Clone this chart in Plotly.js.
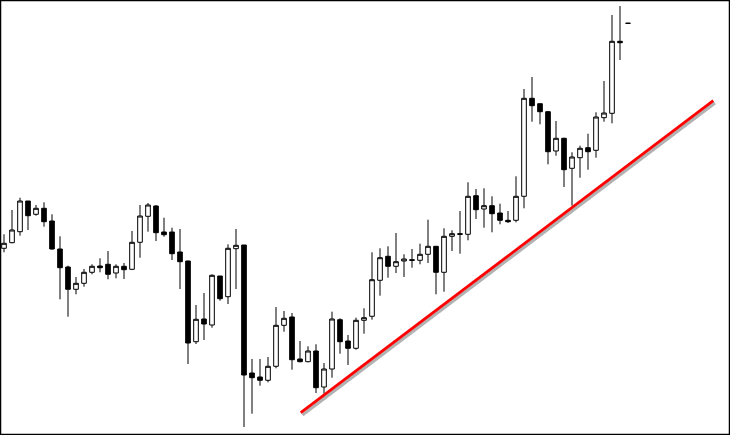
<!DOCTYPE html>
<html>
<head>
<meta charset="utf-8">
<script src="https://cdn.plot.ly/plotly-3.0.1.min.js"></script>
<style>html,body{margin:0;padding:0;background:#fff;}#chart{width:730px;height:435px;}</style>
</head>
<body>
<div id="chart"></div>
<script>
// Price values (arbitrary linear price units)
const openP = [186.7,192.3,203.3,234,220.7,226.7,214,186,168,145.7,151.7,162.7,169,170.7,162,168.7,165.7,192.7,218.7,229,
  203,203,183,174,93.3,116,110,159,138.3,186.3,190,62,58,54.7,68.7,109.7,118,76,73.3,84,
  48,66,115.3,94,86.7,114.7,118.7,154.7,178.7,168.7,174,175.3,174.7,180.7,188.7,162.7,198.7,201.3,200.7,239.3,
  226,229.3,222,214.7,214.7,238.7,336.7,331.3,323.3,284,296.7,266.7,277.3,287.3,284.7,317.3,321.7,393.7,411.7];
const highP = [200.7,225,237.3,234,230,232.7,220.7,198.7,169.3,158,166,170.7,176.7,184,170.7,172,204,230,232,230,
  217.3,207.3,206,174.3,130,142,160.7,159,190.7,206,190,76,76,78,128,124,122,94,88.7,90.7,
  72,123.3,116.7,100,117.3,126.7,182.7,186.7,188.7,202,180.7,186,191.3,215.3,188.7,206.7,204.7,224,252.7,246,
  246.7,238.7,231.3,224,258.7,346,358,331.3,324,314,297.3,282.7,289.3,301.3,322.7,354,420,429,411.7];
const lowP = [182.7,191.7,199.3,205,219.3,208.3,185.3,135.7,118.3,140.7,148.3,160.7,162.7,155.7,156.7,156,165,177.3,203.3,194,
  198.3,175,146,71,91,95,107.3,134.3,131,146,8,21.3,49.3,52.7,66.7,103.3,65.3,72.7,72.7,42,
  41.3,57.3,81.3,70,85.3,101.3,115.3,139.3,157.3,162,158,167.3,170.7,172,140.7,143.3,184,181.3,194.7,216,
  207.3,202.7,210.7,212,212.7,226.7,313.3,310.7,270.7,279.3,248,229.3,257.3,265.3,277.3,313.3,311.7,375,411.7];
const closeP = [191.7,205,234,219.3,226.7,213.3,186,167.3,145.7,151.7,162.7,168.7,167.3,160.7,168.7,165.3,192.7,219,230,202.3,
  200.3,181.3,173.3,92,115.7,111,159.7,136.3,186.7,189.7,60,57.3,54.7,68.7,109.7,116.7,75.3,73.3,84,47.3,
  66,116,93.3,86.7,114.7,117.3,155.3,177.3,168.7,173.3,176,174.7,180.7,188.7,162.7,198.7,201.3,200.7,238.7,225.3,
  229.3,221.3,214.7,213.3,238.7,336.7,329.3,323.3,283.3,296.7,265.3,278,286.7,283.3,318,322,393.7,392.3,411.7];
const barIndex = openP.map((_, i) => i);

// Hand-drawn support trendline (bar index, price)
const trendX = [37.09, 88.66];
const trendY = [22.3, 334.3];

const traces = [
  {
    type: 'candlestick', x: barIndex, open: openP, high: highP, low: lowP, close: closeP,
    increasing: {line: {color: '#000', width: 1}, fillcolor: '#ffffff'},
    decreasing: {line: {color: '#000', width: 1}, fillcolor: '#000000'},
    whiskerwidth: 0, hoverinfo: 'skip', showlegend: false
  },
  {
    type: 'scatter', mode: 'lines', x: trendX.map(v => v + 0.2), y: trendY.map(v => v - 2.2),
    line: {color: 'rgba(0,0,0,0.3)', width: 3.5}, hoverinfo: 'skip', showlegend: false
  },
  {
    type: 'scatter', mode: 'lines', x: trendX, y: trendY,
    line: {color: '#ff0000', width: 2.8}, hoverinfo: 'skip', showlegend: false
  }
];

const layout = {
  width: 730, height: 435,
  margin: {l: 0, r: 0, t: 0, b: 0, pad: 0},
  paper_bgcolor: '#ffffff', plot_bgcolor: '#ffffff',
  showlegend: false,
  boxgap: 0.42, boxgroupgap: 0,
  xaxis: {range: [-0.5, 90.75], visible: false, showgrid: false, zeroline: false, fixedrange: true,
          rangeslider: {visible: false}},
  yaxis: {range: [0, 435], visible: false, showgrid: false, zeroline: false, fixedrange: true},
  shapes: [{type: 'rect', xref: 'paper', yref: 'paper', x0: 0, y0: 0, x1: 1, y1: 1,
            line: {color: '#000', width: 2.5}, fillcolor: 'rgba(0,0,0,0)'}]
};

Plotly.newPlot('chart', traces, layout, {staticPlot: true, displayModeBar: false});
</script>
</body>
</html>
